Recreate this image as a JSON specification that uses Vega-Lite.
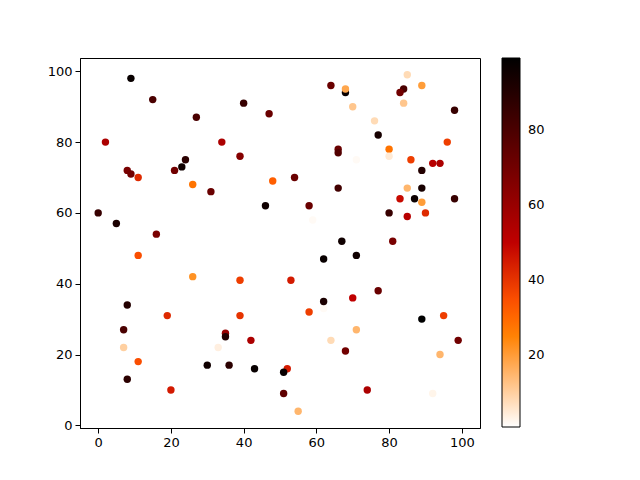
{
  "$schema": "https://vega.github.io/schema/vega-lite/v6.json",
  "width": 400,
  "height": 370,
  "autosize": {"type": "none"},
  "padding": {"left": 80, "top": 58, "right": 160, "bottom": 52},
  "background": "white",
  "config": {
    "view": {"stroke": "black", "strokeWidth": 1},
    "font": "DejaVu Sans",
    "axis": {"grid": false, "domainColor": "black", "tickColor": "black", "labelColor": "black", "labelFontSize": 13, "tickSize": 5, "labelPadding": 3, "labelFont": "DejaVu Sans"}
  },
  "data": {"values": [
    {"x": 9, "y": 98, "c": 97}, {"x": 15, "y": 92, "c": 80}, {"x": 40, "y": 91, "c": 85}, {"x": 47, "y": 88, "c": 72},
    {"x": 27, "y": 87, "c": 80}, {"x": 2, "y": 80, "c": 55}, {"x": 34, "y": 80, "c": 55}, {"x": 39, "y": 76, "c": 65},
    {"x": 24, "y": 75, "c": 88}, {"x": 23, "y": 73, "c": 95}, {"x": 21, "y": 72, "c": 70}, {"x": 8, "y": 72, "c": 68},
    {"x": 9, "y": 71, "c": 70}, {"x": 11, "y": 70, "c": 42}, {"x": 26, "y": 68, "c": 28}, {"x": 31, "y": 66, "c": 72},
    {"x": 48, "y": 69, "c": 32}, {"x": 46, "y": 62, "c": 95}, {"x": 0, "y": 60, "c": 85}, {"x": 5, "y": 57, "c": 92},
    {"x": 16, "y": 54, "c": 68},
    {"x": 64, "y": 96, "c": 72}, {"x": 68, "y": 94, "c": 97}, {"x": 68, "y": 95, "c": 18}, {"x": 70, "y": 90, "c": 12},
    {"x": 85, "y": 99, "c": 8}, {"x": 89, "y": 96, "c": 20}, {"x": 84, "y": 95, "c": 80}, {"x": 83, "y": 94, "c": 70},
    {"x": 84, "y": 91, "c": 12}, {"x": 98, "y": 89, "c": 85}, {"x": 76, "y": 86, "c": 8}, {"x": 77, "y": 82, "c": 93},
    {"x": 96, "y": 80, "c": 38}, {"x": 66, "y": 78, "c": 72}, {"x": 66, "y": 77, "c": 78}, {"x": 80, "y": 78, "c": 28},
    {"x": 80, "y": 76, "c": 5}, {"x": 71, "y": 75, "c": 2}, {"x": 86, "y": 75, "c": 38}, {"x": 92, "y": 74, "c": 52},
    {"x": 94, "y": 74, "c": 55}, {"x": 89, "y": 72, "c": 90}, {"x": 54, "y": 70, "c": 72}, {"x": 66, "y": 67, "c": 82},
    {"x": 85, "y": 67, "c": 15}, {"x": 89, "y": 67, "c": 93}, {"x": 83, "y": 64, "c": 48}, {"x": 87, "y": 64, "c": 96},
    {"x": 89, "y": 63, "c": 20}, {"x": 98, "y": 64, "c": 85}, {"x": 58, "y": 62, "c": 72}, {"x": 80, "y": 60, "c": 85},
    {"x": 85, "y": 59, "c": 52}, {"x": 90, "y": 60, "c": 42}, {"x": 59, "y": 58, "c": 2}, {"x": 67, "y": 52, "c": 95},
    {"x": 81, "y": 52, "c": 68},
    {"x": 1, "y": 46, "c": 1}, {"x": 11, "y": 48, "c": 35}, {"x": 26, "y": 42, "c": 22}, {"x": 39, "y": 41, "c": 38},
    {"x": 8, "y": 34, "c": 90}, {"x": 19, "y": 31, "c": 42}, {"x": 39, "y": 31, "c": 40}, {"x": 7, "y": 27, "c": 80},
    {"x": 35, "y": 26, "c": 60}, {"x": 35, "y": 25, "c": 90}, {"x": 42, "y": 24, "c": 55}, {"x": 7, "y": 22, "c": 10},
    {"x": 33, "y": 22, "c": 4}, {"x": 11, "y": 18, "c": 35}, {"x": 30, "y": 17, "c": 95}, {"x": 36, "y": 17, "c": 88},
    {"x": 43, "y": 16, "c": 97}, {"x": 8, "y": 13, "c": 88}, {"x": 20, "y": 10, "c": 45},
    {"x": 62, "y": 47, "c": 97}, {"x": 71, "y": 48, "c": 95}, {"x": 53, "y": 41, "c": 45}, {"x": 77, "y": 38, "c": 72},
    {"x": 70, "y": 36, "c": 50}, {"x": 62, "y": 33, "c": 2}, {"x": 62, "y": 35, "c": 92}, {"x": 58, "y": 32, "c": 38},
    {"x": 89, "y": 30, "c": 99}, {"x": 95, "y": 31, "c": 38}, {"x": 71, "y": 27, "c": 15}, {"x": 64, "y": 24, "c": 8},
    {"x": 99, "y": 24, "c": 70}, {"x": 68, "y": 21, "c": 70}, {"x": 94, "y": 20, "c": 15}, {"x": 52, "y": 16, "c": 45},
    {"x": 51, "y": 15, "c": 97}, {"x": 51, "y": 9, "c": 75}, {"x": 74, "y": 10, "c": 55}, {"x": 92, "y": 9, "c": 3},
    {"x": 55, "y": 4, "c": 15}
  ]},
  "mark": {"type": "circle", "size": 55, "opacity": 1},
  "encoding": {
    "x": {"field": "x", "type": "quantitative", "scale": {"domain": [-5, 105], "nice": false, "zero": false},
          "axis": {"values": [0, 20, 40, 60, 80, 100], "title": null}},
    "y": {"field": "y", "type": "quantitative", "scale": {"domain": [-0.75, 103.75], "nice": false, "zero": false},
          "axis": {"values": [0, 20, 40, 60, 80, 100], "title": null}},
    "color": {"field": "c", "type": "quantitative",
      "scale": {"domain": [1, 25.5, 33.67, 50, 99], "range": ["#ffffff", "#ff8000", "#ff5500", "#bf0000", "#000000"], "interpolate": "rgb"},
      "legend": {"title": null, "orient": "none", "legendX": 422, "legendY": 0, "direction": "vertical",
        "gradientLength": 369, "gradientThickness": 18, "gradientStrokeColor": "black", "gradientStrokeWidth": 1,
        "values": [20, 40, 60, 80], "labelFontSize": 13, "labelColor": "black", "labelFont": "DejaVu Sans", "labelOffset": 8}}
  }
}
